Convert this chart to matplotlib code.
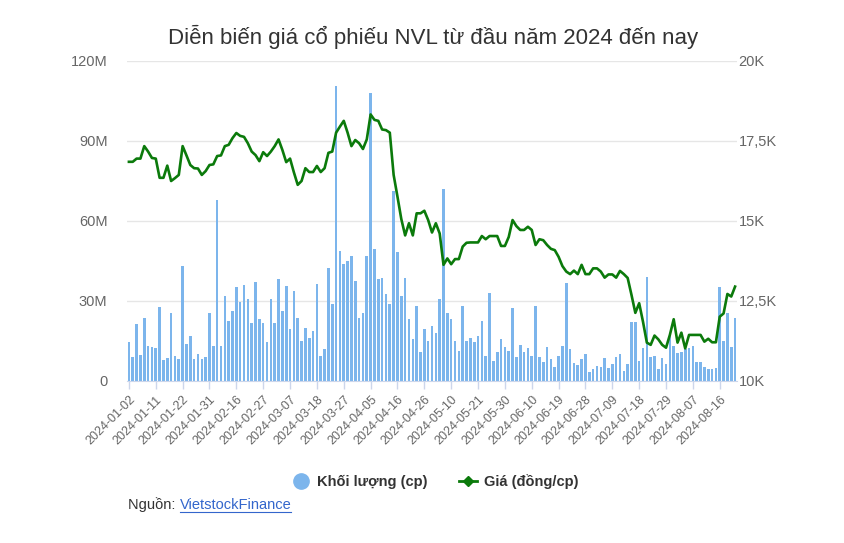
import pandas as pd
import matplotlib
matplotlib.use("Agg")
import matplotlib.pyplot as plt
from matplotlib.lines import Line2D

plt.rcParams['font.family'] = ['Liberation Sans', 'DejaVu Sans']

# trading days (HOSE holidays removed)
holidays = ['2024-02-08', '2024-02-09', '2024-02-12', '2024-02-13', '2024-02-14',
            '2024-04-18', '2024-04-29', '2024-04-30', '2024-05-01']
dates = pd.bdate_range('2024-01-02', '2024-08-22', freq='C', holidays=holidays)
date_labels = [d.strftime('%Y-%m-%d') for d in dates]

# volume, million shares
volume = [
    14.6, 9.1, 21.3, 9.6, 23.6, 13.2, 12.9, 12.4, 27.9, 8.0,
    8.5, 25.4, 9.3, 8.4, 43.2, 14.0, 17.0, 8.1, 10.0, 8.4,
    9.0, 25.4, 13.2, 68.0, 13.2, 32.0, 22.6, 26.4, 35.3, 29.6,
    36.1, 30.6, 21.6, 37.1, 23.1, 21.6, 14.6, 30.6, 21.6, 38.1,
    26.4, 35.6, 19.4, 33.9, 23.6, 15.1, 19.9, 16.1, 18.9, 36.3,
    9.5, 11.9, 42.3,
    28.8, 110.7, 48.7, 43.7, 45.0, 46.9, 37.6, 23.6, 25.5, 46.9,
    107.9, 49.4, 38.1, 38.5, 32.5, 28.8, 71.4, 48.4, 32.0, 38.5,
    23.1, 15.6, 28.1, 10.9, 19.4, 15.1, 20.6, 17.9, 30.6, 71.9,
    25.4, 23.1, 15.0, 11.2, 28.1, 15.0, 16.0, 14.5, 16.9, 22.6,
    9.5, 32.9, 7.5, 10.7, 15.6, 12.9, 11.4, 27.5, 9.0, 13.6,
    10.9, 12.2,
    9.4, 28.1, 9.0, 7.1, 12.7, 8.1, 5.2, 9.4, 13.1, 36.6,
    11.9, 6.7, 5.9, 8.1, 10.0, 3.4, 4.4, 5.7, 5.2, 8.5,
    4.9, 6.2, 9.0, 10.0, 3.9, 6.2, 22.0, 22.0, 7.5, 12.4,
    39.0, 9.0, 9.5, 4.4, 8.6, 6.2, 17.9, 13.0, 10.4, 10.8,
    11.9, 12.5, 13.1, 7.2, 7.2, 5.1, 4.5, 4.6, 4.9, 35.4,
    15.0, 25.4, 12.9, 23.6,
]

# closing price, thousand VND
price = [
    16.85, 16.85, 16.95, 16.95, 17.34, 17.17, 16.97, 16.95, 16.35, 16.35,
    16.73, 16.25, 16.34, 16.44, 17.34, 17.05, 16.75, 16.65, 16.64, 16.44,
    16.56, 16.75, 16.77, 17.03, 17.05, 17.34, 17.38, 17.59, 17.75, 17.66,
    17.63, 17.43, 17.17, 17.06, 16.87, 17.15, 17.03, 17.17, 17.34, 17.55,
    17.22, 16.84, 16.95, 16.52, 16.13, 16.25, 16.65, 16.53, 16.53, 16.72,
    16.53, 16.65, 17.13,
    17.17, 17.76, 17.95, 18.13, 17.76, 17.34, 17.53, 17.43, 17.25, 17.55,
    18.33, 18.16, 18.13, 17.86, 17.84, 17.76, 16.44, 15.76, 15.06, 14.55,
    14.93, 14.55, 15.24, 15.24, 15.32, 15.03, 14.64, 14.93, 14.61, 13.63,
    13.83, 13.65, 13.81, 13.81, 14.20, 14.32, 14.33, 14.33, 14.33, 14.53,
    14.43, 14.53, 14.53, 14.53, 14.22, 14.22, 14.50, 15.03, 14.84, 14.72,
    14.72, 14.82,
    14.72, 14.25, 14.43, 14.40, 14.25, 14.13, 14.09, 13.88, 13.59, 13.42,
    13.34, 13.45, 13.34, 13.63, 13.34, 13.34, 13.52, 13.52, 13.42, 13.23,
    13.33, 13.33, 13.23, 13.44, 13.34, 13.22, 12.69, 12.13, 12.43, 11.85,
    11.20, 11.13, 11.42, 11.30, 11.13, 11.04, 11.44, 11.93, 11.20, 11.51,
    11.02, 11.44, 11.44, 11.44, 11.44, 11.23, 11.32, 11.21, 11.21, 12.01,
    12.11, 12.72, 12.64, 12.95,
]

vol_ticks = [0, 30, 60, 90, 120]
vol_labels = ['0', '30M', '60M', '90M', '120M']
price_ticks = [10, 12.5, 15, 17.5, 20]
price_labels = ['10K', '12,5K', '15K', '17,5K', '20K']

bar_color = '#7cb5ec'
line_color = '#0b7a0b'
grey = '#666666'

fig = plt.figure(figsize=(8.45, 5.43), dpi=100)
ax = fig.add_axes([127 / 845, 1 - 381 / 543, 610 / 845, 320 / 543])
ax2 = ax.twinx()

x = list(range(len(dates)))
ax.bar(x, volume, width=0.68, color=bar_color, zorder=2)
ax2.plot(x, price, color=line_color, linewidth=1.9, zorder=3)

ax.set_xlim(-0.5, len(dates) - 0.5)
ax.set_ylim(0, 120)
ax2.set_ylim(10, 20)

ax.set_yticks(vol_ticks)
ax.set_yticklabels(vol_labels)
ax2.set_yticks(price_ticks)
ax2.set_yticklabels(price_labels)
ax.grid(axis='y', color='#e6e6e6', linewidth=1, zorder=0)
ax.set_axisbelow(True)

tick_pos = x[::7]
ax.set_xticks(tick_pos)
ax.set_xticklabels([date_labels[i] for i in tick_pos], rotation=45,
                   ha='right', rotation_mode='anchor')

for a in (ax, ax2):
    for s in a.spines.values():
        s.set_visible(False)
ax.spines['bottom'].set_visible(True)
ax.spines['bottom'].set_color('#ccd6eb')

ax.tick_params(axis='x', colors='#ccd6eb', length=6, width=1, labelcolor=grey,
               labelsize=9, pad=3)
ax.tick_params(axis='y', length=0, labelcolor=grey, labelsize=10.5, pad=14)
ax2.tick_params(axis='y', length=0, labelcolor=grey, labelsize=10.5, pad=1)

fig.text(0.512, 1 - 37 / 543, 'Diễn biến giá cổ phiếu NVL từ đầu năm 2024 đến nay',
         ha='center', va='center', fontsize=16, color='#333333')

handles = [
    Line2D([], [], linestyle='none', marker='o', markersize=11,
           markerfacecolor=bar_color, markeredgecolor=bar_color),
    Line2D([], [], color=line_color, linewidth=2, marker='D', markersize=5),
]
fig.legend(handles, ['Khối lượng (cp)', 'Giá (đồng/cp)'], loc='center',
           bbox_to_anchor=(0.515, 1 - 482 / 543), ncol=2, frameon=False,
           prop={'weight': 'bold', 'size': 10.5}, labelcolor='#333333',
           handlelength=1.2, handletextpad=0.5, columnspacing=2.2)

# source line with underlined link
src = fig.text(128 / 845, 1 - 505 / 543, 'Nguồn: ', ha='left', va='center',
               fontsize=10.5, color='#333333')
fig.canvas.draw()
r = fig.canvas.get_renderer()
bb = src.get_window_extent(r)
link = fig.text(bb.x1 / fig.bbox.width, 1 - 505 / 543, 'VietstockFinance',
                ha='left', va='center', fontsize=10.5, color='#3366cc')
lb = link.get_window_extent(r)
uy = (lb.y0 + 0.5) / fig.bbox.height
fig.add_artist(Line2D([lb.x0 / fig.bbox.width, lb.x1 / fig.bbox.width], [uy, uy],
                      color='#3366cc', linewidth=0.8))

fig.savefig('out.png', dpi=100)
